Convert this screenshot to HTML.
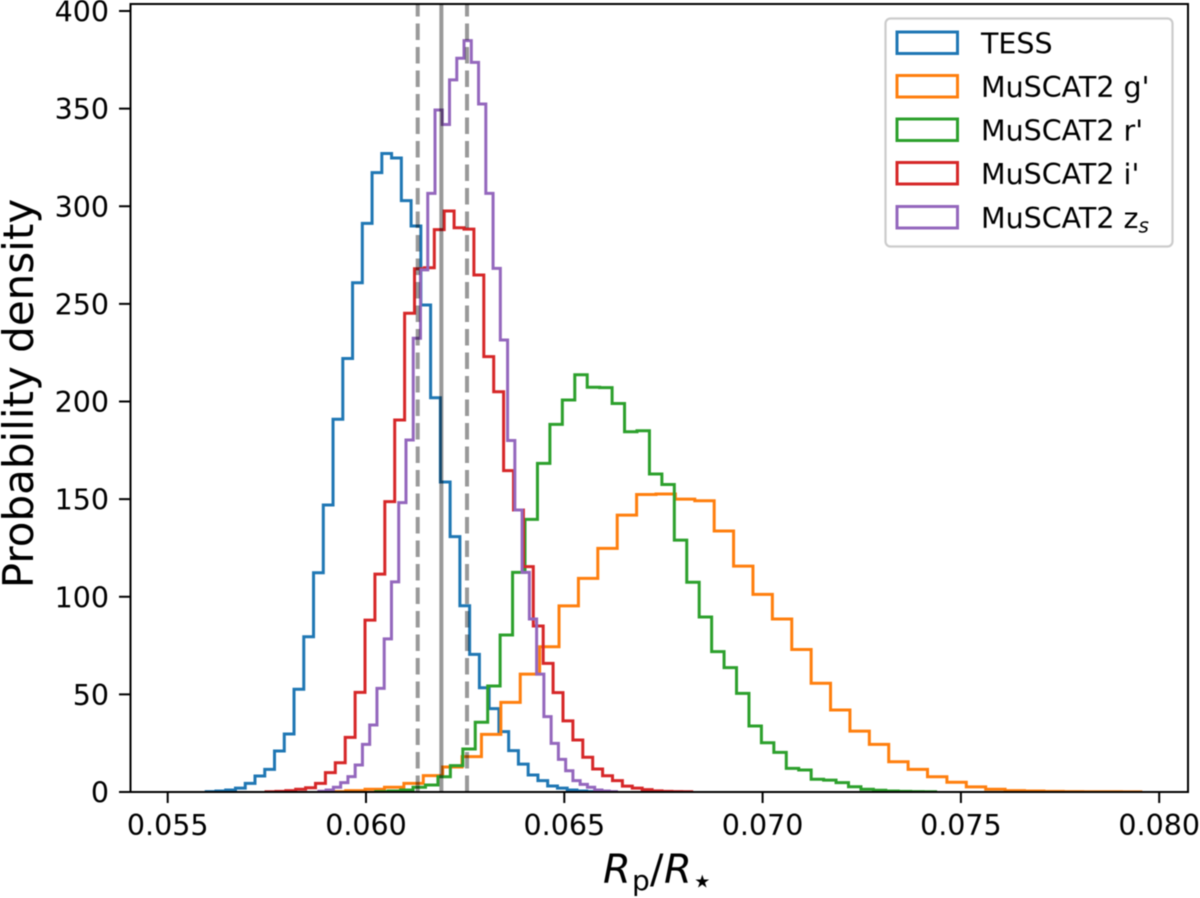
<!DOCTYPE html>
<html lang="en">
<head>
<meta charset="utf-8">
<title>Probability density of Rp/R*</title>
<style>
html,body{margin:0;padding:0;background:#fff;width:1200px;height:898px;overflow:hidden}
svg{display:block;filter:blur(0.45px)}
text{font-family:"DejaVu Sans","Liberation Sans",sans-serif;fill:#000}
</style>
</head>
<body>
<svg id="chart" xmlns="http://www.w3.org/2000/svg" width="1200" height="898" viewBox="0 0 1200 898">
  <defs><clipPath id="plot-clip"><rect x="130" y="4" width="1058" height="788"/></clipPath></defs>
  <rect x="0" y="0" width="1200" height="898" fill="#fff"/>
  <g id="series" clip-path="url(#plot-clip)"></g>
  <g id="vlines" clip-path="url(#plot-clip)"></g>
  <g id="legend">
    <rect x="885.5" y="18.5" width="287" height="228" rx="5" fill="#fff" fill-opacity="0.8" stroke="#ccc" stroke-width="2.2"/>
    <g>
      <rect x="897" y="32" width="60.5" height="21.5" fill="none" stroke="#1f77b4" stroke-width="3"/>
      <text x="981" y="53.5" font-size="28.5">TESS</text>
    </g>
    <g>
      <rect x="897" y="75.5" width="60.5" height="21.5" fill="none" stroke="#ff7f0e" stroke-width="3"/>
      <text x="981" y="97" font-size="28.5">MuSCAT2 g'</text>
    </g>
    <g>
      <rect x="897" y="119" width="60.5" height="21.5" fill="none" stroke="#2ca02c" stroke-width="3"/>
      <text x="981" y="140.5" font-size="28.5">MuSCAT2 r'</text>
    </g>
    <g>
      <rect x="897" y="162.5" width="60.5" height="21.5" fill="none" stroke="#d62728" stroke-width="3"/>
      <text x="981" y="184" font-size="28.5">MuSCAT2 i'</text>
    </g>
    <g>
      <rect x="897" y="206.5" width="60.5" height="21.5" fill="none" stroke="#9467bd" stroke-width="3"/>
      <text x="981" y="228" font-size="28.5">MuSCAT2 z<tspan font-size="20" font-style="italic" dy="4.5">s</tspan></text>
    </g>
  </g>
  <g id="axes"></g>
  <text transform="translate(33 393.5) rotate(-90)" text-anchor="middle" font-size="42">Probability density</text>
  <text y="883" font-size="40"><tspan x="603" font-style="italic">R</tspan><tspan x="632" y="890" font-size="28">p</tspan><tspan x="650" y="883">/</tspan><tspan x="664" font-style="italic">R</tspan><tspan x="691" y="893" font-size="36">⋆</tspan></text>
</svg>
<script>
// Tick labels
const xTicks = [0.055, 0.060, 0.065, 0.070, 0.075, 0.080];
const xTickLabels = ["0.055", "0.060", "0.065", "0.070", "0.075", "0.080"];
const yTicks = [0, 50, 100, 150, 200, 250, 300, 350, 400];
const yTickLabels = ["0", "50", "100", "150", "200", "250", "300", "350", "400"];

// Histogram bins: first edge and width in Rp/R*
const tessStart = 0.055971, tessWidth = 0.000246;
const gStart = 0.058999, gWidth = 0.000489;
const rStart = 0.060245, rWidth = 0.0003137;
const iStart = 0.057479, iWidth = 0.0002496;
const zStart = 0.058812, zWidth = 0.000183;

// Probability density per bin
const tessDensity = [0.2,0.5,1,2,4.4,8.2,11.6,21,29.7,52.6,79.5,112.3,147,190.9,222,260.8,291.2,317.2,327,324.7,302.9,289.9,249.4,201.9,158.8,130.8,95.4,70.5,53.4,42.7,30.9,21.2,14.3,8.7,5.8,3.1,2,1,0.5,0.2];
const gDensity = [0.2,0.7,1.4,2.4,4.4,8.4,12.8,18.1,29.5,45.9,60.4,74.4,95.3,109.4,124.8,141.8,152.4,152.6,150,149.2,133.7,115.7,101.2,88.6,73,55.7,42,31.2,24.4,15.5,11.6,7.8,5,2.6,1.4,0.7,0.5,0.3,0.2,0.15,0.1,0.08];
const rDensity = [0.2,0.5,1,2.4,3.6,7.8,13.5,22,35.7,54.3,80.4,112.5,139.6,168.3,188.3,200.8,213.7,207.3,207.1,199,184.5,185,162.9,157.5,129,107.4,89.6,71.9,63.7,50.5,33.8,25.2,20.3,12.1,11.3,6.5,6.1,4.8,2.7,1.4,0.9,0.5,0.3,0.2,0.1];
const iDensity = [0.1,0.3,0.7,1.4,2.2,4.4,9.9,15,28,51,88,111.6,148.7,190.5,245.2,268,268.5,288,297.6,289,288.3,264.8,223,205,164.6,144.4,115.4,85,65.9,50.9,36.4,26.6,17.8,11.8,8.3,5.8,3,2,1.2,0.6,0.3,0.2,0.1];
const zDensity = [0.4,1,2.4,4.8,7.9,13.8,24.4,34.3,53.1,78.4,107.6,148.2,180.3,232.4,267.4,306.6,349.3,341.9,364.7,375.8,384.8,373.7,352.4,306.6,268.2,231.5,180,144.4,112.5,88.6,60.4,38.6,24.9,16.7,10.9,5.8,3.9,2.4,1,0.5,0.2];

// Reference lines in Rp/R*
const dashedLines = [0.061304, 0.062547];
const solidLines = [0.0619];

const NS = "http://www.w3.org/2000/svg";
const xScale = v => 167.7 + (v - 0.055) * 39660;
const yScale = v => 792 - v * 1.9525;

function make(tag, parent, attrs, text) {
  const el = document.createElementNS(NS, tag);
  for (const k in attrs) el.setAttribute(k, attrs[k]);
  if (text !== undefined) el.textContent = text;
  parent.appendChild(el);
  return el;
}

function stepPath(start, width, values) {
  let d = "M" + xScale(start).toFixed(2) + " " + yScale(0);
  values.forEach((v, i) => {
    const y = yScale(v).toFixed(2);
    d += "L" + xScale(start + i * width).toFixed(2) + " " + y;
    d += "L" + xScale(start + (i + 1) * width).toFixed(2) + " " + y;
  });
  d += "L" + xScale(start + values.length * width).toFixed(2) + " " + yScale(0);
  return d;
}

const seriesGroup = document.getElementById("series");
function drawSeries(name, start, width, values, color) {
  const p = make("path", seriesGroup, { d: stepPath(start, width, values), fill: "none", stroke: color, "stroke-width": 3, "stroke-linejoin": "miter" });
  
  
}
drawSeries("histogram-tess", tessStart, tessWidth, tessDensity, "#1f77b4");
drawSeries("histogram-muscat2-g", gStart, gWidth, gDensity, "#ff7f0e");
drawSeries("histogram-muscat2-r", rStart, rWidth, rDensity, "#2ca02c");
drawSeries("histogram-muscat2-i", iStart, iWidth, iDensity, "#d62728");
drawSeries("histogram-muscat2-z", zStart, zWidth, zDensity, "#9467bd");

const vGroup = document.getElementById("vlines");
solidLines.forEach(v => {
  const l = make("line", vGroup, { x1: xScale(v), x2: xScale(v), y1: 792, y2: 4, stroke: "#000", "stroke-opacity": 0.4, "stroke-width": 4 });
  
  
});
dashedLines.forEach(v => {
  const l = make("line", vGroup, { x1: xScale(v), x2: xScale(v), y1: 792, y2: 4, stroke: "#000", "stroke-opacity": 0.4, "stroke-width": 4, "stroke-dasharray": "16.5 7" });
  
  
});

const axes = document.getElementById("axes");
xTicks.forEach((t, i) => {
  const x = xScale(t);
  const tick = make("line", axes, { x1: x, x2: x, y1: 792, y2: 803, stroke: "#000", "stroke-width": 2 });
  
  
  const label = make("text", axes, { x: x, y: 835, "text-anchor": "middle", "font-size": 28.5 }, xTickLabels[i]);
  
  
});
yTicks.forEach((t, i) => {
  const y = yScale(t);
  const tick = make("line", axes, { x1: 119, x2: 130, y1: y, y2: y, stroke: "#000", "stroke-width": 2 });
  
  
  const label = make("text", axes, { x: 109, y: y + 10.5, "text-anchor": "end", "font-size": 28.5 }, yTickLabels[i]);
  
  
});
const frame = make("rect", axes, { x: 130.5, y: 4, width: 1057.5, height: 788, fill: "none", stroke: "#000", "stroke-width": 2 });


</script>
</body>
</html>
